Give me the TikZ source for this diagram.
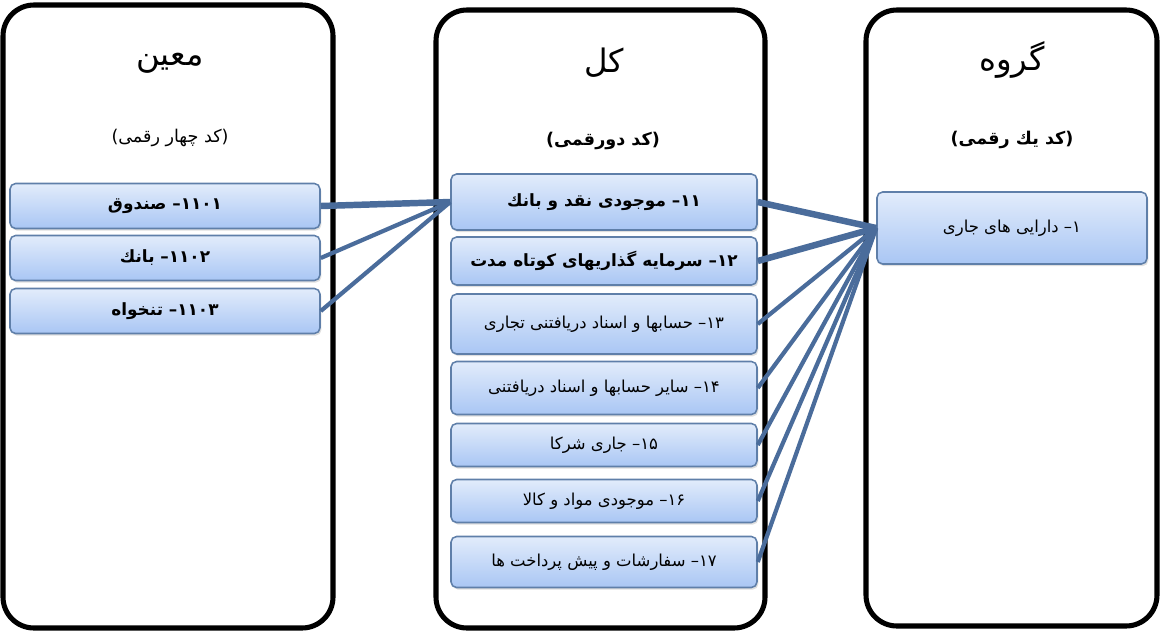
\documentclass[tikz,border=0pt]{standalone}
\usepackage{fontspec}
\usepackage{xcolor}
\usepackage{tikz}
\usetikzlibrary{shadows}
\TeXXeTstate=1
\newfontfamily\fa[Script=Arabic]{DejaVu Sans}
\definecolor{accblue}{HTML}{4A6C9B}
\definecolor{acctop}{HTML}{E2ECFB}
\definecolor{accbot}{HTML}{A9C6F4}
\definecolor{accedge}{HTML}{5F7FA9}
\tikzset{
  panel/.style={draw=black,line width=3.6pt,rounded corners=22pt},
  title/.style={font=\fa\fontsize{23}{27}\selectfont},
  subtitle/.style={font=\fa\fontsize{12.5}{15}\selectfont},
  item/.style={draw=accedge,line width=1.1pt,rounded corners=4pt,top color=acctop,bottom color=accbot,
    drop shadow={shadow xshift=1pt,shadow yshift=-1.5pt,opacity=0.25},font=\fa\fontsize{11.7}{14}\selectfont,inner sep=2pt},
  boldtxt/.style={font=\fa\bfseries\fontsize{12}{14}\selectfont},
  link/.style={draw=accblue,line width=3pt},
  linkb/.style={link,line width=4.6pt},
}
\begin{document}
\begin{tikzpicture}[x=0.025cm,y=-0.025cm]
\useasboundingbox (0,0) rectangle (1160,634);
% three columns
\draw[panel] (3,5) rectangle (333,628);
\draw[panel] (436,10) rectangle (765,628);
\draw[panel] (866,10) rectangle (1157,626);
\node[title] (tMoin) at (170,63) {\beginR معین\endR};
\node[title] (tKol) at (604,63) {\beginR کل\endR};
\node[title] (tGrp) at (1012,60) {\beginR گروه\endR};
\node[subtitle] (sMoin) at (170,138) {\beginR (کد چهار رقمی)\endR};
\node[subtitle,font=\fa\bfseries\fontsize{12.5}{15}\selectfont] (sKol) at (603,141) {\beginR (کد دورقمی)\endR};
\node[subtitle,font=\fa\bfseries\fontsize{12.5}{15}\selectfont] (sGrp) at (1012,140) {\beginR (کد یك رقمی)\endR};
% moin accounts
\foreach \i/\n/\y/\txt in {1/۱۱۰۱/206/صندوق, 2/۱۱۰۲/258/بانك, 3/۱۱۰۳/311/تنخواه} {
  \node[item,boldtxt,minimum width=310*0.025cm,minimum height=45*0.025cm] (m\i) at (165,\y)
    {\beginR\n – \txt\endR};
}
% kol accounts
\foreach \i/\n/\y/\h/\f/\txt in {1/۱۱/202/56/boldtxt/{موجودی نقد و بانك}, 2/۱۲/261/48/boldtxt/{سرمایه گذاریهای کوتاه مدت},
    3/۱۳/324/60/{}/{حسابها و اسناد دریافتنی تجاری}, 4/۱۴/388/53/{}/{سایر حسابها و اسناد دریافتنی},
    5/۱۵/445/43/{}/{جاری شرکا}, 6/۱۶/501/43/{}/{موجودی مواد و کالا}, 7/۱۷/562/51/{}/{سفارشات و پیش پرداخت ها}} {
  \node[item,\f,minimum width=306*0.025cm,minimum height=\h*0.025cm] (k\i) at (604,\y)
    {\beginR\n – \txt\endR};
}
% group account
\node[item,minimum width=270*0.025cm,minimum height=72*0.025cm] (g1) at (1012,228) {\beginR ۱– دارایی های جاری\endR};
% links
\draw[linkb] (m1.east) -- (k1.west);
\draw[link] (m2.east) -- (k1.west);
\draw[link] (m3.east) -- (k1.west);
\foreach \i/\s in {1/linkb,2/linkb,3/link,4/link,5/link,6/link,7/link}
  \draw[\s] (k\i.east) -- (g1.west);
\end{tikzpicture}
\end{document}
